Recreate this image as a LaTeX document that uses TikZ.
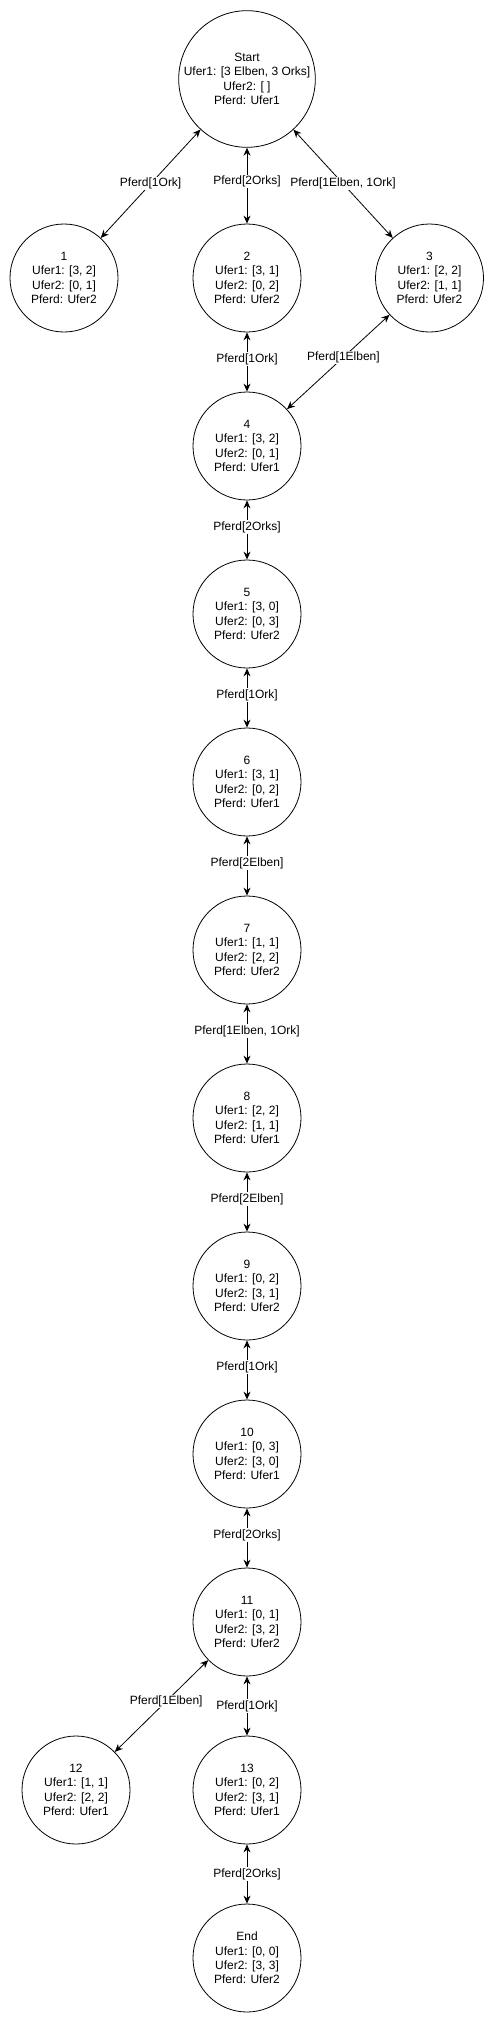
\documentclass[tikz,border=0pt]{standalone}
\usepackage{fontspec}
\setmainfont{Liberation Sans}
\usetikzlibrary{arrows.meta}

\tikzset{
    state/.style={draw, circle, line width=0.8pt, minimum size=108pt, inner sep=0pt, align=center, font=\fontsize{12}{14.4}\selectfont},
    startstate/.style={state, minimum size=134pt},
    move/.style={{Stealth[length=8pt,width=7pt]}-{Stealth[length=8pt,width=7pt]}, line width=0.8pt},
    movelabel/.style={fill=white, inner sep=1pt, font=\fontsize{12}{14.4}\selectfont, pos=0.45}
}

\begin{document}
\begin{tikzpicture}[x=1pt, y=-1pt]
    \useasboundingbox (0,0) rectangle (494,2023);

    % States
    \node[startstate] (start) at (247,79) {Start\\Ufer1: [3 Elben, 3 Orks]\\Ufer2: [ ]\\Pferd: Ufer1};
    \node[state] (s1) at (64,278) {1\\Ufer1: [3, 2]\\Ufer2: [0, 1]\\Pferd: Ufer2};
    \node[state] (s2) at (247,278) {2\\Ufer1: [3, 1]\\Ufer2: [0, 2]\\Pferd: Ufer2};
    \node[state] (s3) at (429.5,278) {3\\Ufer1: [2, 2]\\Ufer2: [1, 1]\\Pferd: Ufer2};
    \node[state] (s4) at (247,446) {4\\Ufer1: [3, 2]\\Ufer2: [0, 1]\\Pferd: Ufer1};
    \node[state] (s5) at (247,614) {5\\Ufer1: [3, 0]\\Ufer2: [0, 3]\\Pferd: Ufer2};
    \node[state] (s6) at (247,782) {6\\Ufer1: [3, 1]\\Ufer2: [0, 2]\\Pferd: Ufer1};
    \node[state] (s7) at (247,950) {7\\Ufer1: [1, 1]\\Ufer2: [2, 2]\\Pferd: Ufer2};
    \node[state] (s8) at (247,1118) {8\\Ufer1: [2, 2]\\Ufer2: [1, 1]\\Pferd: Ufer1};
    \node[state] (s9) at (247,1286) {9\\Ufer1: [0, 2]\\Ufer2: [3, 1]\\Pferd: Ufer2};
    \node[state] (s10) at (247,1454) {10\\Ufer1: [0, 3]\\Ufer2: [3, 0]\\Pferd: Ufer1};
    \node[state] (s11) at (247,1622) {11\\Ufer1: [0, 1]\\Ufer2: [3, 2]\\Pferd: Ufer2};
    \node[state] (s12) at (76,1790) {12\\Ufer1: [1, 1]\\Ufer2: [2, 2]\\Pferd: Ufer1};
    \node[state] (s13) at (247,1790) {13\\Ufer1: [0, 2]\\Ufer2: [3, 1]\\Pferd: Ufer1};
    \node[state] (end) at (247,1958) {End\\Ufer1: [0, 0]\\Ufer2: [3, 3]\\Pferd: Ufer2};

    % Moves
    \draw[move] (start) -- (s1) node[movelabel, pos=0.5] {Pferd[1Ork]};
    \draw[move] (start) -- (s2) node[movelabel] {Pferd[2Orks]};
    \draw[move] (start) -- (s3) node[movelabel, pos=0.5] {Pferd[1Elben, 1Ork]};
    \draw[move] (s2) -- (s4) node[movelabel] {Pferd[1Ork]};
    \draw[move] (s3) -- (s4) node[movelabel] {Pferd[1Elben]};
    \draw[move] (s4) -- (s5) node[movelabel] {Pferd[2Orks]};
    \draw[move] (s5) -- (s6) node[movelabel] {Pferd[1Ork]};
    \draw[move] (s6) -- (s7) node[movelabel] {Pferd[2Elben]};
    \draw[move] (s7) -- (s8) node[movelabel] {Pferd[1Elben, 1Ork]};
    \draw[move] (s8) -- (s9) node[movelabel] {Pferd[2Elben]};
    \draw[move] (s9) -- (s10) node[movelabel] {Pferd[1Ork]};
    \draw[move] (s10) -- (s11) node[movelabel] {Pferd[2Orks]};
    \draw[move] (s11) -- (s12) node[movelabel] {Pferd[1Elben]};
    \draw[move] (s11) -- (s13) node[movelabel, pos=0.5] {Pferd[1Ork]};
    \draw[move] (s13) -- (end) node[movelabel, pos=0.5] {Pferd[2Orks]};
\end{tikzpicture}
\end{document}
